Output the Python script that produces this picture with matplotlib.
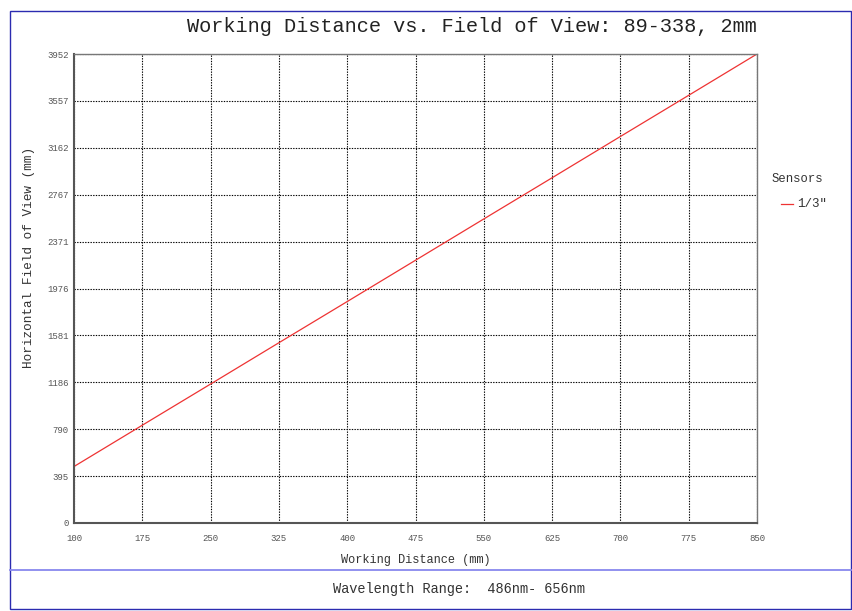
import matplotlib
matplotlib.use("Agg")
import matplotlib.pyplot as plt
from matplotlib.patches import Rectangle
from matplotlib.lines import Line2D

# data
working_distance = [100, 175, 250, 325, 400, 475, 550, 625, 700, 775, 850]
hfov_13 = [476, 824, 1171, 1519, 1866, 2214, 2562, 2909, 3257, 3604, 3952]
x_ticks = [100, 175, 250, 325, 400, 475, 550, 625, 700, 775, 850]
y_ticks = [0, 395, 790, 1186, 1581, 1976, 2371, 2767, 3162, 3557, 3952]

plt.rcParams['font.family'] = ['Liberation Mono', 'DejaVu Sans Mono']

fig = plt.figure(figsize=(8.52, 6.11), dpi=100)
ax = fig.add_axes([74 / 852, 1 - 523 / 611, (757 - 74) / 852, (523 - 54) / 611])

ax.plot(working_distance, hfov_13, color="#ee3333", lw=0.9)
ax.set_xlim(100, 850)
ax.set_ylim(0, 3952)
ax.set_xticks(x_ticks)
ax.set_yticks(y_ticks)
ax.tick_params(length=0, labelsize=6.5, colors="#555555")
ax.tick_params(axis="y", pad=4)
ax.tick_params(axis="x", pad=8)
ax.grid(True, color="black", linestyle=(0, (1.2, 1.2)), lw=0.8)

for side in ["left", "bottom"]:
    ax.spines[side].set_color("#555555")
    ax.spines[side].set_linewidth(1.5)
for side in ["top", "right"]:
    ax.spines[side].set_color("#777777")
    ax.spines[side].set_linewidth(1.0)

ax.set_xlabel("Working Distance (mm)", fontsize=8.6, color="#333333", labelpad=8)
ax.set_ylabel("Horizontal Field of View (mm)", fontsize=9.2, color="#333333")
ax.yaxis.set_label_coords((35 - 74) / 683, (523 - 257) / 469)

fig.text(472 / 852, 1 - 27 / 611, "Working Distance vs. Field of View: 89-338, 2mm",
         ha="center", va="center", fontsize=14.6, color="#222222")

# legend
fig.text(797 / 852, 1 - 179 / 611, "Sensors", ha="center", va="center", fontsize=8.8, color="#333333")
fig.add_artist(Line2D([781 / 852, 793 / 852], [1 - 204 / 611, 1 - 204 / 611], color="#ee3333", lw=0.9))
fig.text(797 / 852, 1 - 204 / 611, '1/3"', ha="left", va="center", fontsize=9, color="#333333")

# frame and footer
fig.add_artist(Rectangle((9.5 / 852, 1 - 609 / 611), (851 - 9.5) / 852, (609 - 11) / 611,
                         fill=False, edgecolor="#2b2bb0", lw=1.0, transform=fig.transFigure))
fig.add_artist(Line2D([9.5 / 852, 1], [1 - 570 / 611, 1 - 570 / 611], color="#8888ee", lw=1.3))
fig.text(459 / 852, 1 - 589 / 611, "Wavelength Range:  486nm- 656nm",
         ha="center", va="center", fontsize=9.8, color="#333333")

fig.savefig("out.png", dpi=100)
